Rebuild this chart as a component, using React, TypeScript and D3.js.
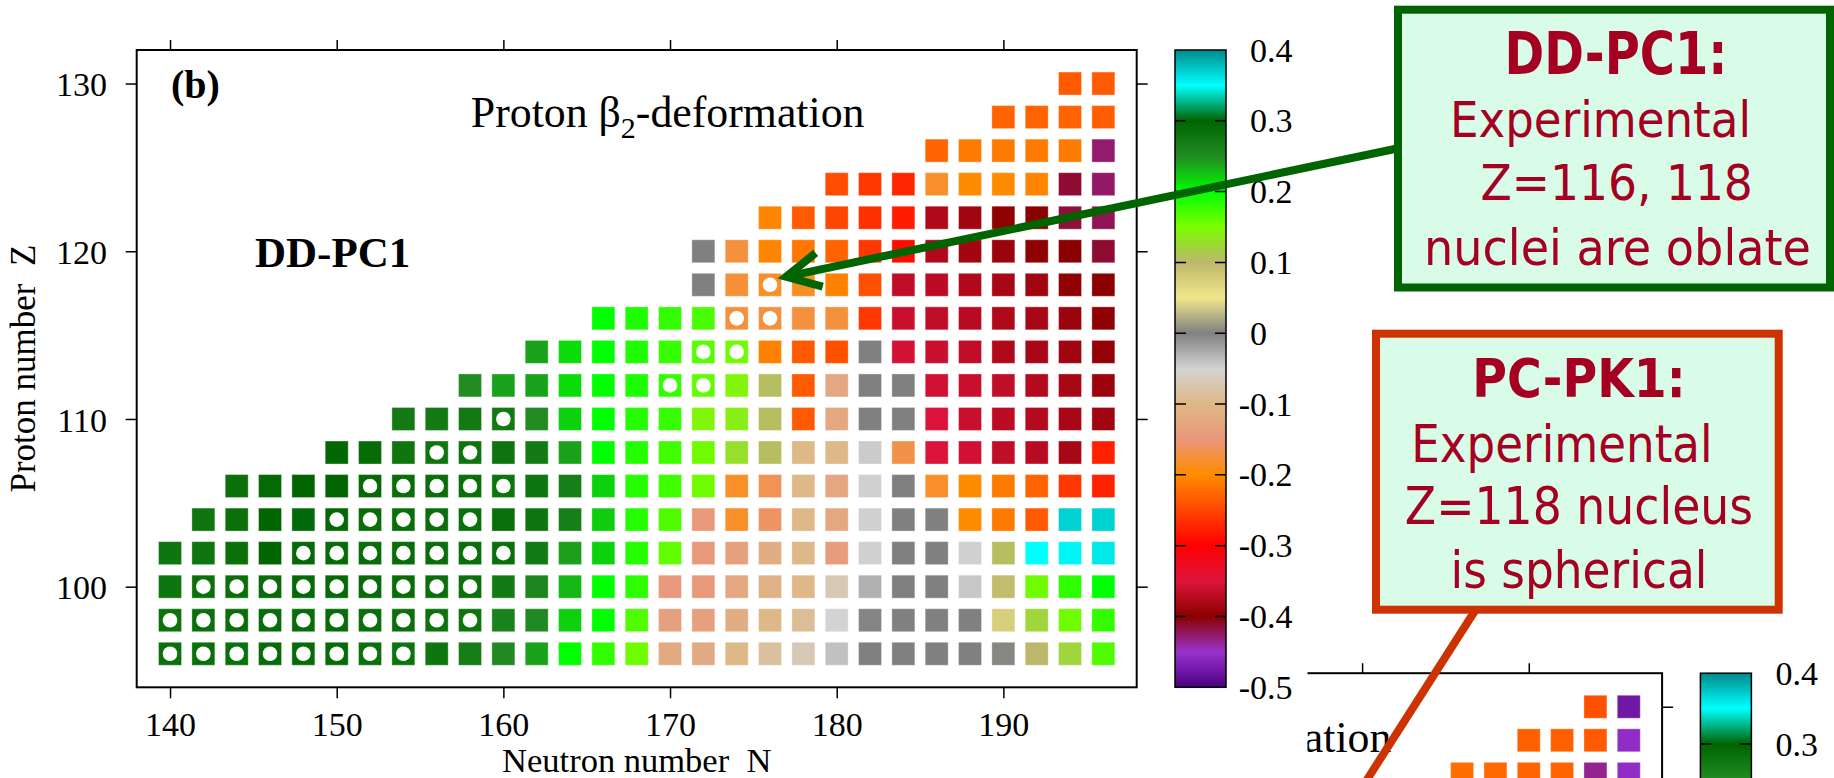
import React, { useEffect, useRef } from 'react';
import * as d3 from 'd3';

// rows of the chart (proton number Z) and the first neutron number N drawn in each row
const protonZ = [96, 98, 100, 102, 104, 106, 108, 110, 112, 114, 116, 118, 120, 122, 124, 126, 128, 130];
const firstN = [140, 140, 140, 140, 142, 144, 150, 154, 158, 162, 166, 172, 172, 176, 180, 186, 190, 194];

// proton beta2 per row, N = firstN, firstN+2, ..., 196
const beta096 = [0.285, 0.285, 0.285, 0.29, 0.29, 0.29, 0.285, 0.28, 0.278, 0.268, 0.252, 0.24, 0.2, 0.18, 0.155, -0.12, -0.12, -0.1, -0.085, -0.07, -0.039, 0, 0, 0, 0, 0.003, 0.1, 0.122, 0.168];
const beta098 = [0.282, 0.284, 0.286, 0.288, 0.288, 0.288, 0.286, 0.284, 0.282, 0.28, 0.262, 0.252, 0.22, 0.2, 0.168, -0.135, -0.135, -0.115, -0.1, -0.09, -0.05, -0.003, 0, 0, 0, 0.074, 0.122, 0.155, 0.18];
const beta100 = [0.278, 0.284, 0.286, 0.29, 0.292, 0.292, 0.29, 0.288, 0.286, 0.284, 0.27, 0.258, 0.231, 0.2, 0.182, -0.145, -0.145, -0.123, -0.11, -0.1, -0.07, -0.029, 0, 0, -0.043, 0.095, 0.155, 0.182, 0.2];
const beta102 = [0.278, 0.278, 0.285, 0.298, 0.292, 0.29, 0.288, 0.288, 0.286, 0.286, 0.284, 0.272, 0.242, 0.22, 0.185, 0.161, -0.145, -0.135, -0.115, -0.1, -0.14, -0.048, 0, 0, -0.048, 0.105, 0.35, 0.354, 0.36];
const beta104 = [0.278, 0.285, 0.298, 0.302, 0.295, 0.288, 0.286, 0.286, 0.285, 0.285, 0.278, 0.265, 0.222, 0.185, 0.168, -0.145, -0.183, -0.16, -0.1, -0.125, -0.048, 0, 0, -0.2, -0.213, -0.235, 0.37, 0.37];
const beta106 = [0.285, 0.292, 0.3, 0.3, 0.292, 0.287, 0.286, 0.286, 0.28, 0.278, 0.265, 0.22, 0.185, 0.175, 0.155, -0.183, -0.165, -0.1, -0.125, -0.048, 0, -0.183, -0.2, -0.213, -0.228, -0.26, -0.275];
const beta108 = [0.295, 0.29, 0.278, 0.278, 0.28, 0.28, 0.27, 0.24, 0.2, 0.185, 0.175, 0.155, 0.13, 0.105, -0.1, -0.1, -0.045, -0.17, -0.35, -0.357, -0.367, -0.372, -0.382, -0.277];
const beta110 = [0.272, 0.272, 0.272, 0.272, 0.25, 0.22, 0.2, 0.185, 0.178, 0.145, 0.14, 0.105, -0.235, -0.123, 0, 0, -0.35, -0.362, -0.37, -0.375, -0.382, -0.387];
const beta112 = [0.25, 0.24, 0.24, 0.215, 0.2, 0.188, 0.18, 0.161, 0.145, 0.105, -0.235, -0.123, 0, 0, -0.357, -0.362, -0.367, -0.375, -0.382, -0.39];
const beta114 = [0.24, 0.215, 0.2, 0.188, 0.178, 0.165, 0.155, -0.208, -0.235, -0.242, 0, -0.355, -0.362, -0.367, -0.377, -0.382, -0.387, -0.395];
const beta116 = [0.2, 0.188, 0.18, 0.17, -0.174, -0.174, -0.174, -0.174, -0.26, -0.362, -0.367, -0.372, -0.377, -0.382, -0.39, -0.397];
const beta118 = [0, -0.178, -0.183, -0.185, -0.208, -0.242, -0.367, -0.37, -0.377, -0.382, -0.387, -0.397, -0.4];
const beta120 = [0, -0.174, -0.205, -0.215, -0.228, -0.26, -0.292, -0.377, -0.385, -0.39, -0.397, -0.4, -0.412];
const beta122 = [-0.205, -0.235, -0.25, -0.265, -0.28, -0.377, -0.387, -0.397, -0.4, -0.415, -0.42];
const beta124 = [-0.245, -0.26, -0.272, -0.183, -0.2, -0.2, -0.205, -0.412, -0.425];
const beta126 = [-0.228, -0.213, -0.213, -0.213, -0.213, -0.427];
const beta128 = [-0.228, -0.228, -0.228, -0.232];
const beta130 = [-0.235, -0.235];
const betaRows = [beta096, beta098, beta100, beta102, beta104, beta106, beta108, beta110, beta112,
  beta114, beta116, beta118, beta120, beta122, beta124, beta126, beta128, beta130];

// nuclei known experimentally (white dots)
const expN = [140, 142, 144, 146, 148, 150, 152, 154,
  140, 142, 144, 146, 148, 150, 152, 154, 156, 158,
  142, 144, 146, 148, 150, 152, 154, 156, 158,
  148, 150, 152, 154, 156, 158, 160,
  150, 152, 154, 156, 158,
  152, 154, 156, 158, 160,
  156, 158, 160, 170, 172, 172, 174, 174, 176, 176];
const expZ = [96, 96, 96, 96, 96, 96, 96, 96,
  98, 98, 98, 98, 98, 98, 98, 98, 98, 98,
  100, 100, 100, 100, 100, 100, 100, 100, 100,
  102, 102, 102, 102, 102, 102, 102,
  104, 104, 104, 104, 104,
  106, 106, 106, 106, 106,
  108, 108, 110, 112, 112, 114, 114, 116, 116, 118];

// second panel (PC-PK1), only its top right corner shows
const pk1Z = [126, 128, 130];
const pk1FirstN = [186, 190, 194];
const pk1Beta126 = [-0.222, -0.225, -0.228, -0.228, -0.435, -0.455];
const pk1Beta128 = [-0.23, -0.23, -0.235, -0.455];
const pk1Beta130 = [-0.242, -0.476];

const nTicks = [140, 150, 160, 170, 180, 190];
const zTicks = [100, 110, 120, 130];
const cbTicks = [0.4, 0.3, 0.2, 0.1, 0, -0.1, -0.2, -0.3, -0.4, -0.5];

const paletteValues = [-0.5, -0.45, -0.4, -0.35, -0.3, -0.25, -0.2, -0.15, -0.1, -0.05, 0, 0.05, 0.1, 0.15, 0.2, 0.25, 0.3, 0.35, 0.4];
const paletteColors = ['#4b0082', '#9932cc', '#8b0000', '#dc143c', '#ff0000', '#ff4500', '#ff8c00', '#e9967a', '#deb887',
  '#d3d3d3', '#808080', '#f0e68c', '#bdb76b', '#7cfc00', '#00ff00', '#228b22', '#006400', '#00ffff', '#008b8b'];

const SERIF = "'Liberation Serif', 'Times New Roman', serif";
const SANS = "'DejaVu Sans', Verdana, sans-serif";
const RED_TEXT = '#a50021';

const x = d3.scaleLinear().domain([138, 198]).range([136.7, 1136.7]);
const y = d3.scaleLinear().domain([94, 132]).range([687.3, 50]);
const cbY = d3.scaleLinear().domain([-0.5, 0.4]).range([687.3, 50]);
const color = d3.scaleLinear<string>().domain(paletteValues).range(paletteColors)
  .interpolate(d3.interpolateRgb).clamp(true);

// full = the whole DD-PC1 panel; otherwise only the corner of the PC-PK1 panel that shows
function drawPanel(parent, rows, zList, firstList, dots, dx, dy, full) {
  const g = parent.append('g').attr('transform', `translate(${dx},${dy})`);

  const cells = rows.flatMap((vals, i) => vals.map((b, j) => ({ n: firstList[i] + 2 * j, z: zList[i], b })));
  g.append('g').selectAll('rect').data(cells).join('rect')
    .attr('x', d => x(d.n) - 11.5)
    .attr('y', d => y(d.z) - 11.5)
    .attr('width', 23)
    .attr('height', 23)
    .attr('fill', d => color(d.b))
    .attr('stroke', '#fff')
    .attr('stroke-opacity', 0.35)
    .attr('stroke-width', 1);

  g.append('g').selectAll('circle').data(dots).join('circle')
    .attr('cx', d => x(d[0]))
    .attr('cy', d => y(d[1]))
    .attr('r', 7.3)
    .attr('fill', '#fff');

  // frame
  g.append('rect')
    .attr('x', x(138)).attr('y', y(132))
    .attr('width', x(198) - x(138)).attr('height', y(94) - y(132))
    .attr('fill', 'none').attr('stroke', '#000').attr('stroke-width', 2);

  const styleAxis = (a) => {
    a.select('.domain').remove();
    a.attr('font-family', SERIF).attr('font-size', 34);
    a.selectAll('line').attr('stroke-width', 1.5);
    a.selectAll('text').attr('fill', '#000');
  };
  const noText = (a) => a.selectAll('text').remove();

  if (full) {
    g.append('g').attr('transform', `translate(0,${y(94)})`)
      .call(d3.axisBottom(x).tickValues(nTicks).tickSize(11).tickSizeOuter(0).tickPadding(13.6))
      .call(styleAxis);
    g.append('g').attr('transform', `translate(${x(138)},0)`)
      .call(d3.axisLeft(y).tickValues(zTicks).tickSize(11).tickSizeOuter(0).tickPadding(18.7))
      .call(styleAxis)
      .call(a => a.selectAll('text').attr('dy', '0.36em'));
  }
  g.append('g').attr('transform', `translate(0,${y(132)})`)
    .call(d3.axisTop(x).tickValues(nTicks).tickSize(10).tickSizeOuter(0))
    .call(styleAxis).call(noText);
  g.append('g').attr('transform', `translate(${x(198)},0)`)
    .call(d3.axisRight(y).tickValues(zTicks).tickSize(11).tickSizeOuter(0))
    .call(styleAxis).call(noText);

  // colour box
  const cbX = 1175, cbW = 51;
  g.append('rect')
    .attr('x', cbX).attr('y', cbY(0.4))
    .attr('width', cbW).attr('height', cbY(-0.5) - cbY(0.4))
    .attr('fill', 'url(#cbGrad)').attr('stroke', '#000').attr('stroke-width', 1.5);
  const inner = cbTicks.filter(v => v < 0.4 && v > -0.5);
  g.append('g').selectAll('path').data(inner).join('path')
    .attr('d', v => `M${cbX},${cbY(v)}h11M${cbX + cbW},${cbY(v)}h-11`)
    .attr('stroke', '#000').attr('stroke-width', 1.5);
  const shown = full ? cbTicks : cbTicks.filter(v => v >= 0.3);
  g.append('g').selectAll('text').data(shown).join('text')
    .attr('x', v => (v < 0 ? 1238.7 : 1250))
    .attr('y', v => cbY(v))
    .attr('dy', '0.34em')
    .attr('font-family', SERIF).attr('font-size', 34)
    .text(v => String(v));

  if (full) {
    const title = g.append('text')
      .attr('x', 470.8).attr('y', 127)
      .attr('font-family', SERIF).attr('font-size', 43.8);
    title.append('tspan').text('Proton β');
    title.append('tspan').attr('font-size', 30).attr('dy', 11).text('2');
    title.append('tspan').attr('dy', -11).text('-deformation');

    g.append('text').attr('x', 171).attr('y', 98)
      .attr('font-family', SERIF).attr('font-size', 40).attr('font-weight', 'bold')
      .text('(b)');
    g.append('text').attr('x', 255).attr('y', 266.7)
      .attr('font-family', SERIF).attr('font-size', 43).attr('font-weight', 'bold')
      .text('DD-PC1');
    g.append('text')
      .attr('x', (x(138) + x(198)) / 2).attr('y', 771.5)
      .attr('text-anchor', 'middle')
      .attr('font-family', SERIF).attr('font-size', 34.5)
      .style('white-space', 'pre')
      .text('Neutron number  N');
    g.append('text')
      .attr('transform', `translate(35,${(y(94) + y(132)) / 2}) rotate(-90)`)
      .attr('text-anchor', 'middle')
      .attr('font-family', SERIF).attr('font-size', 35)
      .style('white-space', 'pre')
      .text('Proton number  Z');
  } else {
    // the rest of this panel's title is hidden behind the first panel
    g.append('text')
      .attr('x', 866).attr('y', 129)
      .attr('text-anchor', 'end')
      .attr('font-family', SERIF).attr('font-size', 43.8)
      .text('ation');
  }
}

// boxed note; each line is squeezed sideways to the width it has in the figure
function callout(parent, box, stroke, lines) {
  const g = parent.append('g');
  g.append('rect')
    .attr('x', box[0]).attr('y', box[1]).attr('width', box[2]).attr('height', box[3])
    .attr('fill', '#d8fce8').attr('stroke', stroke).attr('stroke-width', 8);
  g.selectAll('text').data(lines).join('text')
    .attr('x', 0)
    .attr('y', 0)
    .attr('font-family', SANS)
    .attr('font-size', d => d.size)
    .attr('font-weight', d => (d.bold ? 'bold' : 'normal'))
    .attr('fill', RED_TEXT)
    .text(d => d.text)
    .each(function (d) {
      const len = this.getComputedTextLength ? this.getComputedTextLength() : 0;
      const sx = len > 0 ? (d.x2 - d.x1) / len : 1;
      d3.select(this).attr('transform', `translate(${d.x1},${d.base}) scale(${sx},1)`);
    });
}

const App = () => {
  const ref = useRef(null);

  useEffect(() => {
    const svg = d3.select(ref.current);
    svg.selectAll('*').remove();

    const defs = svg.append('defs');
    const grad = defs.append('linearGradient').attr('id', 'cbGrad')
      .attr('x1', 0).attr('y1', 0).attr('x2', 0).attr('y2', 1);
    grad.selectAll('stop').data(paletteValues.slice().reverse()).join('stop')
      .attr('offset', v => (0.4 - v) / 0.9)
      .attr('stop-color', v => color(v));
    defs.append('clipPath').attr('id', 'pk1Clip')
      .append('rect').attr('x', 1307.5).attr('y', 600).attr('width', 600).attr('height', 178);

    svg.append('rect').attr('width', 1834).attr('height', 778).attr('fill', '#fff');

    const dots = expN.map((n, i) => [n, expZ[i]]);
    drawPanel(svg, betaRows, protonZ, firstN, dots, 0, 0, true);

    const pk1 = svg.append('g').attr('clip-path', 'url(#pk1Clip)');
    drawPanel(pk1, [pk1Beta126, pk1Beta128, pk1Beta130], pk1Z, pk1FirstN, [], 525.4, 623.2, false);

    // arrow to Z=118, N=176
    const tip = [x(176) + 16, y(118) - 8];
    const tail = [1402, 147.5];
    const ang = Math.atan2(tail[1] - tip[1], tail[0] - tip[0]);
    const barb = (s) => [tip[0] + 38 * Math.cos(ang + s), tip[1] + 38 * Math.sin(ang + s)];
    const b1 = barb(-0.47), b2 = barb(0.47);
    svg.append('line')
      .attr('x1', tail[0]).attr('y1', tail[1]).attr('x2', tip[0] + 4).attr('y2', tip[1] - 1)
      .attr('stroke', '#006400').attr('stroke-width', 8);
    svg.append('path')
      .attr('d', `M${b1[0]},${b1[1]}L${tip[0]},${tip[1]}L${b2[0]},${b2[1]}`)
      .attr('fill', 'none').attr('stroke', '#006400').attr('stroke-width', 8)
      .attr('stroke-linejoin', 'miter');

    svg.append('line')
      .attr('x1', 1478).attr('y1', 606).attr('x2', 1354).attr('y2', 800)
      .attr('stroke', '#cc3300').attr('stroke-width', 8);

    callout(svg, [1398, 9.7, 432, 277.8], '#006400', [
      { text: 'DD-PC1:', x1: 1504.4, x2: 1727.4, base: 74, size: 58, bold: true },
      { text: 'Experimental', x1: 1450, x2: 1751, base: 137, size: 50 },
      { text: 'Z=116, 118', x1: 1480.5, x2: 1753, base: 200, size: 50 },
      { text: 'nuclei are oblate', x1: 1424, x2: 1811, base: 265, size: 50 },
    ]);
    callout(svg, [1376, 333.7, 402.7, 276], '#cc3300', [
      { text: 'PC-PK1:', x1: 1472.3, x2: 1685.7, base: 397, size: 54, bold: true },
      { text: 'Experimental', x1: 1411.3, x2: 1712.7, base: 461.7, size: 51 },
      { text: 'Z=118 nucleus', x1: 1404.8, x2: 1753.2, base: 524, size: 51 },
      { text: 'is spherical', x1: 1450.5, x2: 1707.5, base: 588.3, size: 51 },
    ]);
  }, []);

  return (
    <svg ref={ref} width={1834} height={778}
      style={{ position: 'absolute', left: 0, top: 0, display: 'block' }} />
  );
};

export default App;
